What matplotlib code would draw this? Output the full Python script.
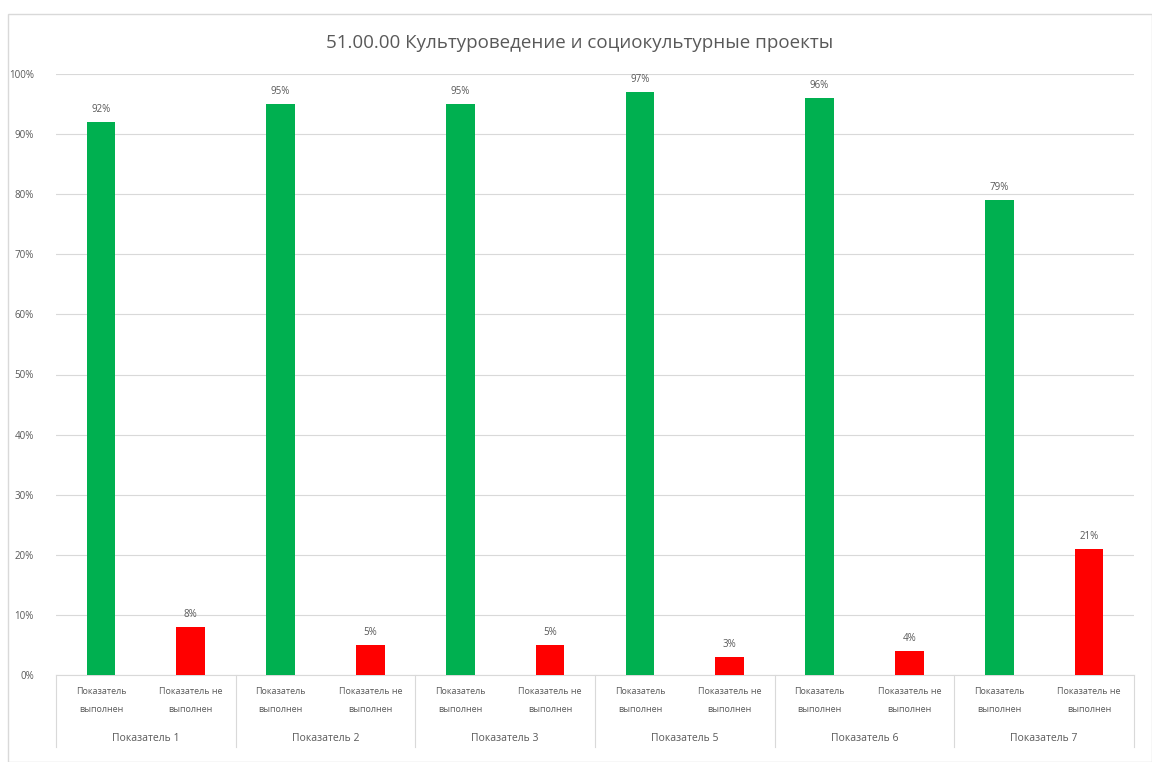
import matplotlib.pyplot as plt
from matplotlib.patches import Rectangle
import matplotlib.transforms as mtransforms

plt.rcParams['font.family'] = ['Open Sans', 'DejaVu Sans']

# --- data ---
title = '51.00.00 Культуроведение и социокультурные проекты'
groups = ['Показатель 1', 'Показатель 2', 'Показатель 3',
          'Показатель 5', 'Показатель 6', 'Показатель 7']
cat_labels = ['Показатель\nвыполнен', 'Показатель не\nвыполнен']
done = [92, 95, 95, 97, 96, 79]
not_done = [8, 5, 5, 3, 4, 21]

green = '#00b050'
red = '#ff0000'
text_col = '#595959'
grid_col = '#d9d9d9'

W, H = 1152, 762
fig = plt.figure(figsize=(W / 100, H / 100), dpi=100)

# chart border
fig.patches.append(Rectangle((8 / W, 0), 1 - 8 / W, 1 - 14 / H, transform=fig.transFigure,
                             fill=False, edgecolor='#d9d9d9', linewidth=1))

ax = fig.add_axes([56 / W, 1 - 675 / H, (1134 - 56) / W, (675 - 74) / H])

values = []
colors = []
for d, n in zip(done, not_done):
    values += [d, n]
    colors += [green, red]
x = list(range(len(values)))

bars = ax.bar(x, values, width=0.32, color=colors, zorder=3)
for b, v in zip(bars, values):
    ax.annotate(f'{v}%', (b.get_x() + b.get_width() / 2, v), xytext=(0, 5),
                textcoords='offset points', ha='center', va='bottom',
                fontsize=7, color=text_col)

ax.set_xlim(-0.5, len(values) - 0.5)
ax.set_ylim(0, 100)
ax.set_yticks(range(0, 101, 10))
ax.set_yticklabels([f'{t}%' for t in range(0, 101, 10)], fontsize=7, color=text_col)
ax.tick_params(axis='y', length=0, pad=16)
ax.grid(axis='y', color=grid_col, linewidth=0.8, zorder=0)
for s in ['top', 'right', 'left']:
    ax.spines[s].set_visible(False)
ax.spines['bottom'].set_color(grid_col)

ax.set_xticks(x)
ax.set_xticklabels(cat_labels * len(groups), fontsize=6.5, color=text_col, linespacing=2.15)
ax.tick_params(axis='x', length=0, pad=9)

trans = mtransforms.blended_transform_factory(ax.transData, ax.transAxes)
for i, g in enumerate(groups):
    ax.text(2 * i + 0.5, -0.105, g, transform=trans, ha='center', va='center',
            fontsize=7.5, color=text_col)
for i in range(len(groups) + 1):
    ax.plot([2 * i - 0.5, 2 * i - 0.5], [0, -0.12], transform=trans, color=grid_col,
            linewidth=0.8, clip_on=False)

fig.text(580 / W, 1 - 43 / H, title, ha='center', va='center', fontsize=13.5, color=text_col)

fig.savefig('out.png', dpi=100)
